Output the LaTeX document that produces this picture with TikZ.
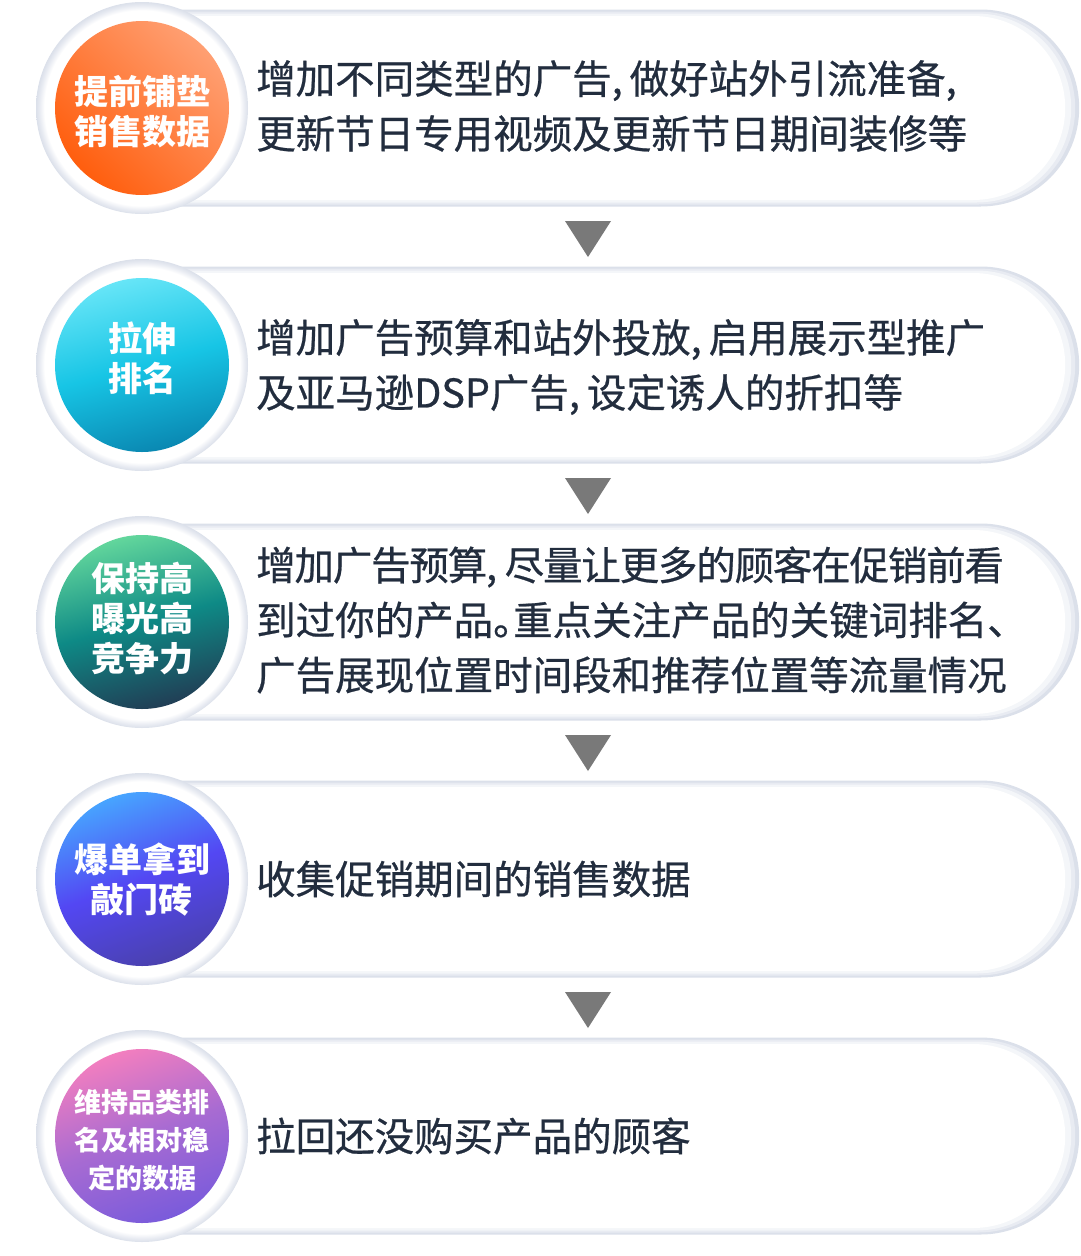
\documentclass[tikz,border=0pt]{standalone}
\usepackage{fontspec}
\newfontfamily\cjk{Noto Sans CJK SC}
\newfontfamily\cjkbody[FakeBold=0.6]{Noto Sans CJK SC}
\usetikzlibrary{shapes.misc}

\newcommand\gapcomma{,\hspace{7pt}}
\newcommand\halfstop{\makebox[20pt][l]{。}}

\definecolor{inkdark}{HTML}{222D3E}
\definecolor{arrowgray}{HTML}{797979}
\definecolor{edgeA}{HTML}{DBE0EA}
\definecolor{edgeB}{HTML}{E8EBF2}
\definecolor{edgeC}{HTML}{F4F6F9}
\definecolor{orangeL}{HTML}{FF9F72}
\definecolor{orangeD}{HTML}{FF5E0E}
\definecolor{cyanL}{HTML}{66E5F7}
\definecolor{cyanM}{HTML}{17C5E5}
\definecolor{cyanD}{HTML}{0A88B2}
\definecolor{greenL}{HTML}{62D69C}
\definecolor{greenM}{HTML}{0E8A86}
\definecolor{greenD}{HTML}{213E55}
\definecolor{blueL}{HTML}{47A4FF}
\definecolor{blueM}{HTML}{5347F3}
\definecolor{blueD}{HTML}{4A41AE}
\definecolor{purpleL}{HTML}{F27EBF}
\definecolor{purpleM}{HTML}{A86BD2}
\definecolor{purpleD}{HTML}{7A5BDB}

\pgfdeclareradialshading{ringshade}{\pgfpoint{0bp}{0bp}}{color(0bp)=(white); color(23bp)=(white); color(24.2bp)=(edgeB); color(25bp)=(edgeA); color(50bp)=(edgeA)}

\begin{document}
\begin{tikzpicture}[x=1pt,y=-1pt,
  pill/.style={rounded rectangle, rounded rectangle west arc=none, anchor=west,
    inner sep=0pt, fill=edgeA, minimum width=937pt, minimum height=197pt},
  pillmid/.style={pill, fill=edgeB, minimum width=933pt, minimum height=193pt},
  pillin/.style={pill, fill=edgeC, minimum width=929pt, minimum height=189pt},
  pillcore/.style={pill, fill=white, minimum width=923pt, minimum height=184pt},
  ring/.style={circle, minimum size=212pt, inner sep=0pt, shade, shading=ringshade},
  disc/.style={circle, minimum size=174pt, inner sep=0pt},
  tag/.style={inner sep=0pt, align=center, text=white,
    font=\cjk\bfseries\fontsize{34pt}{40pt}\selectfont},
  smalltag/.style={tag, font=\cjk\bfseries\fontsize{27pt}{38pt}\selectfont},
  note/.style={anchor=west, inner sep=0pt, align=left, text=inkdark,
    font=\cjkbody\fontsize{39.5pt}{55pt}\selectfont},
  arrowtri/.style={fill=arrowgray}]

  \fill[white] (0,0) rectangle (1080,1256);
  \useasboundingbox (0,0) rectangle (1080,1256);

  % Stage 1: groundwork before the sale

  \begin{scope}[shift={(0,108)}]
    \node [pill] (p1) at (142,0) {};
    \node [pillmid] at (p1.west) {};
    \node [pillin] at (p1.west) {};
    \node [pillcore] at (p1.west) {};
    \node [ring] (r1) at (142,0) {};
    \node [disc, top color=orangeL, bottom color=orangeD, shading angle=-45] (c1) at (r1) {};
    \node [tag] (l1) at ([yshift=-4pt]c1.center) {提前铺垫\\销售数据};
    \node [note] (n1) at (256,-2) {增加不同类型的广告\gapcomma 做好站外引流准备,\\更新节日专用视频及更新节日期间装修等};
  \end{scope}

  % Stage 2: ranking

  \begin{scope}[shift={(0,365)}]
    \node [pill] (p2) at (142,0) {};
    \node [pillmid] at (p2.west) {};
    \node [pillin] at (p2.west) {};
    \node [pillcore] at (p2.west) {};
    \node [ring] (r2) at (142,0) {};
    \node [disc, top color=cyanL, bottom color=cyanD, middle color=cyanM, shading angle=15] (c2) at (r2) {};
    \node [tag] (l2) at ([yshift=7pt]c2.center) {拉伸\\排名};
    \node [note] (n2) at (256,2) {增加广告预算和站外投放\gapcomma 启用展示型推广\\及亚马逊DSP广告\gapcomma 设定诱人的折扣等};
  \end{scope}

  % Stage 3: exposure

  \begin{scope}[shift={(0,622)}]
    \node [pill] (p3) at (142,0) {};
    \node [pillmid] at (p3.west) {};
    \node [pillin] at (p3.west) {};
    \node [pillcore] at (p3.west) {};
    \node [ring] (r3) at (142,0) {};
    \node [disc, top color=greenL, bottom color=greenD, middle color=greenM, shading angle=15] (c3) at (r3) {};
    \node [tag] (l3) at ([yshift=3pt]c3.center) {保持高\\曝光高\\竞争力};
    \node [note] (n3) at (256,-2) {{\addfontfeature{LetterSpace=-3}增加广告预算, 尽量让更多的顾客在促销前看}\\到过你的产品\halfstop 重点关注产品的关键词排名、\\广告展现位置时间段和推荐位置等流量情况};
  \end{scope}

  % Stage 4: sales data

  \begin{scope}[shift={(0,879)}]
    \node [pill] (p4) at (142,0) {};
    \node [pillmid] at (p4.west) {};
    \node [pillin] at (p4.west) {};
    \node [pillcore] at (p4.west) {};
    \node [ring] (r4) at (142,0) {};
    \node [disc, top color=blueL, bottom color=blueD, middle color=blueM, shading angle=20] (c4) at (r4) {};
    \node [tag] (l4) at ([yshift=-1pt]c4.center) {爆单拿到\\敲门砖};
    \node [note] (n4) at (256,0) {收集促销期间的销售数据};
  \end{scope}

  % Stage 5: after the sale

  \begin{scope}[shift={(0,1136)}]
    \node [pill] (p5) at (142,0) {};
    \node [pillmid] at (p5.west) {};
    \node [pillin] at (p5.west) {};
    \node [pillcore] at (p5.west) {};
    \node [ring] (r5) at (142,0) {};
    \node [disc, top color=purpleL, bottom color=purpleD, middle color=purpleM, shading angle=20] (c5) at (r5) {};
    \node [smalltag] (l5) at ([yshift=-4pt]c5.center) {维持品类排\\名及相对稳\\定的数据};
    \node [note] (n5) at (256,0) {拉回还没购买产品的顾客};
  \end{scope}

  % arrows between the stages
  \coordinate (a1) at (588,239);
  \coordinate (a2) at (588,496);
  \coordinate (a3) at (588,753);
  \coordinate (a4) at (588,1010);
  \fill [arrowtri] (a1) ++(-23,-18) -- ++(46,0) -- ++(-23,36) -- cycle;
  \fill [arrowtri] (a2) ++(-23,-18) -- ++(46,0) -- ++(-23,36) -- cycle;
  \fill [arrowtri] (a3) ++(-23,-18) -- ++(46,0) -- ++(-23,36) -- cycle;
  \fill [arrowtri] (a4) ++(-23,-18) -- ++(46,0) -- ++(-23,36) -- cycle;

\end{tikzpicture}
\end{document}
